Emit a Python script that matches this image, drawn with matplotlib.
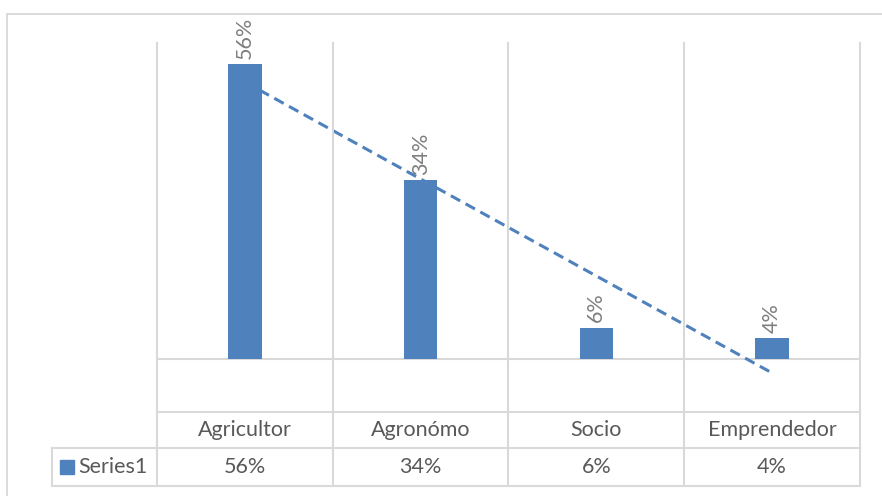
import matplotlib.pyplot as plt
import matplotlib.transforms as mtransforms
from matplotlib.patches import Rectangle
import numpy as np

# dane wykresu
kategorie = ["Agricultor", "Agronómo", "Socio", "Emprendedor"]
wartosci = [0.56, 0.34, 0.06, 0.04]
etykiety = ["56%", "34%", "6%", "4%"]
nazwa_serii = "Series1"

NIEBIESKI = "#4F81BD"
SIATKA = "#D9D9D9"
TEKST = "#595959"

plt.rcParams['font.family'] = ['Lato', 'DejaVu Sans']

W, H = 882, 496
fig = plt.figure(figsize=(W / 100, H / 100), dpi=100)

# ramka calego wykresu (prawa i dolna krawedz wychodza poza obraz)
fig.patches.append(Rectangle((7 / W, -0.1), 1.2, (H - 14) / H + 0.1,
                             transform=fig.transFigure, fill=False,
                             edgecolor=SIATKA, linewidth=1.3))

# obszar wykresu w pikselach: x 157..860, y 43..412
lewo, prawo, gora, dol = 157, 860, 43, 412
ax = fig.add_axes([lewo / W, (H - dol) / H, (prawo - lewo) / W, (dol - gora) / H])
ax.set_facecolor("none")

x = np.arange(1, len(kategorie) + 1)
ax.bar(x, wartosci, width=0.19, color=NIEBIESKI, zorder=3)

# linia trendu (liniowa)
a, b = np.polyfit(x, wartosci, 1)
ax.plot(x, a * x + b, color=NIEBIESKI, linewidth=2.2, linestyle=(0, (3.5, 2)),
        zorder=2, solid_capstyle='butt')

# etykiety danych obrocone o 90 stopni
for xi, v, e in zip(x, wartosci, etykiety):
    ax.annotate(e, (xi, v), xytext=(0, 4), textcoords="offset points",
                rotation=90, ha="center", va="bottom", fontsize=15.5, color="#7F7F7F")

ax.set_xlim(0.5, len(kategorie) + 0.5)
ax.set_ylim(-0.1, 0.6)
ax.axis("off")

# os kategorii na poziomie 0
ax.axhline(0, color=SIATKA, linewidth=1.5, zorder=1)

# tabela danych pod wykresem
h_px = dol - gora
y_wiersz1 = (dol - 448) / h_px
y_wiersz2 = (dol - 486) / h_px
x_legenda = (52 - lewo) / (prawo - lewo)

tr = mtransforms.blended_transform_factory(ax.transData, ax.transAxes)
kw = dict(color=SIATKA, linewidth=1.5, clip_on=False, transform=ax.transAxes)

ax.plot([0, 1], [0, 0], **kw)
ax.plot([x_legenda, 1], [y_wiersz1, y_wiersz1], **kw)
ax.plot([x_legenda, 1], [y_wiersz2, y_wiersz2], **kw)
ax.plot([x_legenda, x_legenda], [y_wiersz1, y_wiersz2], **kw)
for granica in np.arange(0.5, len(kategorie) + 1, 1.0):
    ax.plot([granica, granica], [1, y_wiersz2], color=SIATKA, linewidth=1.5,
            clip_on=False, transform=tr)

for xi, k, e in zip(x, kategorie, etykiety):
    ax.text(xi, (0 + y_wiersz1) / 2, k, transform=tr, ha="center", va="center",
            fontsize=15.5, color=TEKST)
    ax.text(xi, (y_wiersz1 + y_wiersz2) / 2, e, transform=tr, ha="center", va="center",
            fontsize=15.5, color=TEKST)

# legenda w tabeli
kw_leg = (60 - lewo) / (prawo - lewo)
kw_szer = 14 / (prawo - lewo)
kw_wys = 14 / h_px
y_srodek = (y_wiersz1 + y_wiersz2) / 2
ax.add_patch(Rectangle((kw_leg, y_srodek - kw_wys / 2), kw_szer, kw_wys,
                       transform=ax.transAxes, color=NIEBIESKI, clip_on=False))
ax.text(kw_leg + kw_szer + 4 / (prawo - lewo), y_srodek, nazwa_serii,
        transform=ax.transAxes, ha="left", va="center", fontsize=15.5, color=TEKST)

fig.savefig("out.png", dpi=100)
